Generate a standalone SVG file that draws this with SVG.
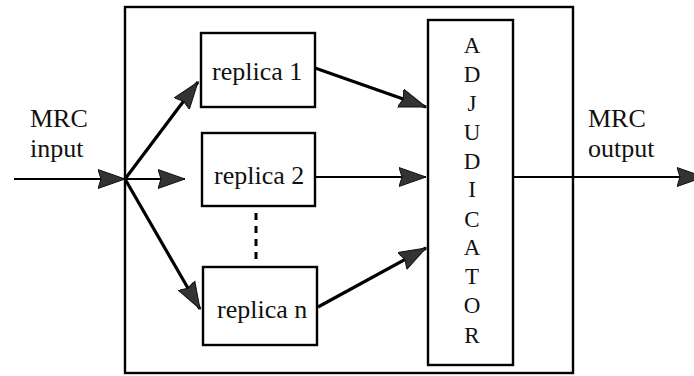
<svg xmlns="http://www.w3.org/2000/svg" width="694" height="376" viewBox="0 0 694 376">
<defs>
<style>
.box{fill:#fff;stroke:#000;stroke-width:2.4}
.t{font-family:"Liberation Serif","Times New Roman",serif;font-size:26px;fill:#111}
.v{font-family:"Liberation Serif","Times New Roman",serif;font-size:23px;fill:#111;text-anchor:middle}
.ln{stroke:#000;stroke-width:2.2;fill:none}
.th{stroke:#000;stroke-width:3.2;fill:none}
</style>
<marker id="ah" markerUnits="userSpaceOnUse" markerWidth="30" markerHeight="22" viewBox="0 -11 30 22" refX="27" refY="0" orient="auto">
<path d="M0,-9.5 L27,0 L0,9.5 L3,0 z" fill="#333" stroke="#111" stroke-width="1"/>
</marker>
</defs>
<rect x="0" y="0" width="694" height="376" fill="#fff"/>
<g id="system">
<rect class="box" x="125" y="7" width="448" height="366"/>
</g>
<g id="replica1">
<rect class="box" x="201" y="33" width="114" height="74"/>
<text class="t" x="212" y="80">replica 1</text>
</g>
<g id="replica2">
<rect class="box" x="202" y="133" width="113" height="73"/>
<text class="t" x="214" y="184">replica 2</text>
</g>
<g id="replican">
<rect class="box" x="203" y="267" width="114" height="78"/>
<text class="t" x="217" y="318">replica n</text>
</g>
<g id="adjudicator">
<rect class="box" x="428" y="20" width="85" height="345"/>
<text class="v" x="472" y="53">A</text>
<text class="v" x="472" y="82">D</text>
<text class="v" x="472" y="111">J</text>
<text class="v" x="472" y="140">U</text>
<text class="v" x="472" y="169">D</text>
<text class="v" x="472" y="197">I</text>
<text class="v" x="472" y="227">C</text>
<text class="v" x="472" y="255">A</text>
<text class="v" x="472" y="284">T</text>
<text class="v" x="472" y="313">O</text>
<text class="v" x="472" y="343">R</text>
</g>
<g id="input-label">
<text class="t" x="30" y="127">MRC</text>
<text class="t" x="30" y="157">input</text>
</g>
<g id="output-label">
<text class="t" x="588" y="127">MRC</text>
<text class="t" x="588" y="157">output</text>
</g>
<g id="connectors">
<line class="ln" x1="14" y1="179" x2="125" y2="179" marker-end="url(#ah)"/>
<line class="ln" x1="125" y1="179" x2="185" y2="179" marker-end="url(#ah)"/>
<line class="th" x1="125" y1="179" x2="198" y2="82" marker-end="url(#ah)"/>
<line class="th" x1="125" y1="179" x2="200" y2="309" marker-end="url(#ah)"/>
<line class="th" x1="315" y1="68" x2="426" y2="107" marker-end="url(#ah)"/>
<line class="ln" x1="315" y1="177" x2="426" y2="177" marker-end="url(#ah)"/>
<line class="th" x1="318" y1="307" x2="426" y2="248" marker-end="url(#ah)"/>
<line class="ln" x1="513" y1="177" x2="704" y2="177" marker-end="url(#ah)"/>
<line x1="256" y1="213" x2="256" y2="261" stroke="#000" stroke-width="3" stroke-dasharray="7 6"/>
</g>
</svg>
